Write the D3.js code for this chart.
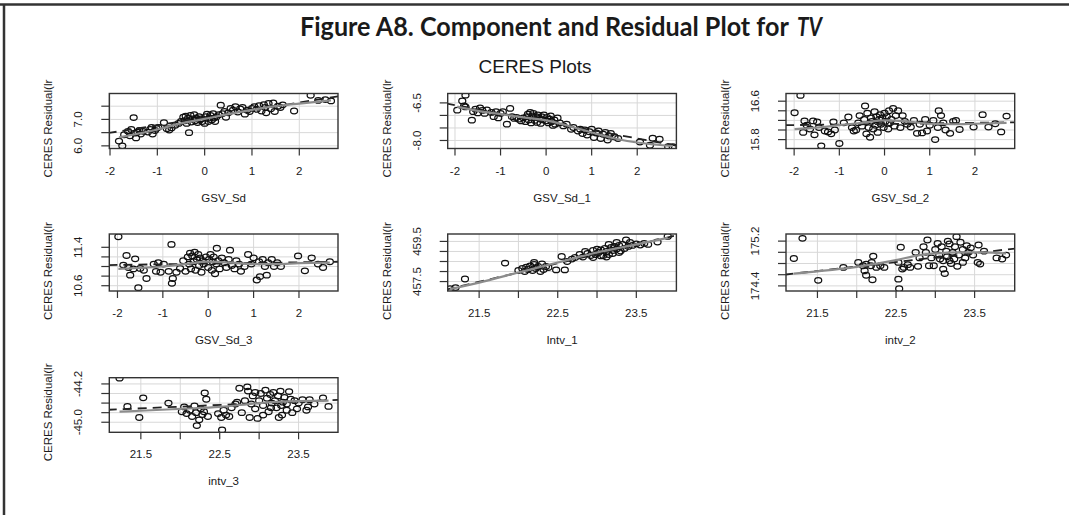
<!DOCTYPE html>
<html>
<head>
<meta charset="utf-8">
<script src="https://cdn.jsdelivr.net/npm/d3@7"></script>
<style>
  body { margin: 0; background: #fff; }
  svg { display: block; }
  text { font-family: "Liberation Sans", Arial, sans-serif; fill: #1a1a1a; }
</style>
</head>
<body>
<div id="chart"></div>
<script>
const width = 1069;
const height = 515;

// ---- data ----
const panelNames = ["GSV_Sd", "GSV_Sd_1", "GSV_Sd_2", "GSV_Sd_3", "Intv_1", "intv_2", "intv_3"];

const gsvTicks = [-2, -1, 0, 1, 2];
const gsvTickLabels = ["-2", "-1", "0", "1", "2"];
const intvTicks = [21.5, 22, 22.5, 23, 23.5];
const intvTickLabels = ["21.5", "", "22.5", "", "23.5"];

const yTicks = [
  [6.0, 6.5, 7.0, 7.5],
  [-8.0, -7.5, -7.0, -6.5],
  [15.8, 16.0, 16.2, 16.4, 16.6],
  [10.6, 10.8, 11.0, 11.2, 11.4],
  [457.5, 458.0, 458.5, 459.0, 459.5],
  [174.4, 174.6, 174.8, 175.0, 175.2],
  [-45.0, -44.8, -44.6, -44.4, -44.2]
];
const yTickLabels = [
  ["6.0", "", "7.0", ""],
  ["-8.0", "", "", "-6.5"],
  ["15.8", "", "", "", "16.6"],
  ["10.6", "", "", "", "11.4"],
  ["457.5", "", "", "", "459.5"],
  ["174.4", "", "", "", "175.2"],
  ["-45.0", "", "", "", "-44.2"]
];

const gsvSdPts = [[-1.81,6.18],[-1.74,6.0],[-1.70,6.42],[-1.62,6.55],[-1.58,6.38],[-1.55,6.62],[-1.50,7.07],[-1.48,6.48],[-1.45,6.30],[-1.42,6.52],[-1.38,6.58],[-1.35,6.45],[-1.30,6.55],[-1.20,6.52],[-1.15,6.62],[-1.12,6.70],[-1.10,6.45],[-1.05,6.58],[-1.02,6.66],[-0.98,6.70],[-0.86,6.88],[-0.80,6.65],[-0.75,6.60],[-0.70,6.68],[-0.62,6.78],[-0.55,6.85],[-0.50,6.92],[-0.45,7.08],[-0.42,6.95],[-0.40,7.12],[-0.38,6.85],[-0.35,7.05],[-0.33,6.50],[-0.30,7.15],[-0.28,6.90],[-0.25,7.02],[-0.22,7.18],[-0.20,6.95],[-0.18,7.05],[-0.15,6.88],[-0.12,7.10],[-0.10,6.98],[-0.08,7.02],[-0.05,6.92],[0.0,6.85],[0.02,7.10],[0.05,7.20],[0.08,6.92],[0.10,7.05],[0.12,7.15],[0.15,6.98],[0.18,7.22],[0.20,7.05],[0.22,6.92],[0.25,7.10],[0.30,7.18],[0.34,7.54],[0.38,7.22],[0.42,7.30],[0.45,7.08],[0.50,7.25],[0.55,7.42],[0.60,7.35],[0.65,7.48],[0.70,7.28],[0.75,7.40],[0.80,7.45],[0.85,7.20],[0.90,7.35],[0.95,7.30],[1.00,7.42],[1.05,7.48],[1.10,7.38],[1.15,7.52],[1.20,7.32],[1.25,7.56],[1.28,7.45],[1.30,7.25],[1.35,7.60],[1.40,7.40],[1.45,7.62],[1.48,7.30],[1.55,7.50],[1.60,7.45],[1.65,7.55],[1.89,7.32],[2.24,7.91],[2.40,7.72],[2.55,7.75],[2.67,7.70]];
const gsvSd1Pts = [[-1.95,-6.79],[-1.84,-6.42],[-1.80,-6.62],[-1.77,-6.19],[-1.77,-6.66],[-1.63,-7.19],[-1.60,-6.85],[-1.55,-6.75],[-1.50,-6.90],[-1.45,-6.70],[-1.40,-6.80],[-1.35,-6.92],[-1.30,-6.78],[-1.20,-6.88],[-1.15,-7.05],[-1.10,-6.85],[-1.05,-7.10],[-1.00,-6.92],[-0.95,-6.85],[-0.86,-7.35],[-0.79,-6.72],[-0.75,-7.05],[-0.70,-7.12],[-0.65,-7.08],[-0.60,-7.15],[-0.55,-7.22],[-0.50,-7.10],[-0.45,-7.25],[-0.42,-7.05],[-0.40,-6.95],[-0.38,-7.18],[-0.35,-6.88],[-0.33,-7.30],[-0.30,-7.02],[-0.28,-6.92],[-0.25,-7.20],[-0.22,-7.05],[-0.20,-7.28],[-0.18,-6.98],[-0.15,-7.12],[-0.12,-7.32],[-0.10,-7.05],[-0.08,-7.18],[-0.05,-6.98],[0.0,-7.22],[0.02,-7.08],[0.05,-7.30],[0.08,-7.15],[0.10,-7.02],[0.12,-7.25],[0.15,-7.40],[0.18,-7.18],[0.20,-7.35],[0.25,-7.10],[0.30,-7.30],[0.38,-7.42],[0.45,-7.35],[0.55,-7.55],[0.60,-7.48],[0.70,-7.62],[0.75,-7.55],[0.80,-7.72],[0.85,-7.58],[0.90,-7.78],[0.95,-7.65],[1.00,-7.55],[1.05,-7.88],[1.10,-7.70],[1.15,-7.62],[1.20,-7.92],[1.25,-7.75],[1.30,-7.68],[1.35,-7.98],[1.38,-7.82],[1.42,-7.72],[1.50,-7.85],[1.58,-7.92],[2.06,-8.06],[2.28,-8.19],[2.34,-7.91],[2.49,-7.95],[2.68,-8.25],[2.78,-8.25]];
const gsvSd2Pts = [[-1.99,16.36],[-1.86,16.72],[-1.80,15.95],[-1.77,16.19],[-1.72,16.10],[-1.65,16.02],[-1.58,16.19],[-1.55,15.90],[-1.49,16.17],[-1.45,16.05],[-1.40,15.67],[-1.32,15.98],[-1.25,15.96],[-1.18,15.92],[-1.13,16.17],[-1.10,16.00],[-1.00,15.72],[-0.90,16.15],[-0.80,16.27],[-0.72,16.05],[-0.68,15.98],[-0.63,16.00],[-0.58,16.15],[-0.55,16.30],[-0.50,16.08],[-0.45,16.22],[-0.43,16.50],[-0.40,15.92],[-0.38,16.35],[-0.35,16.05],[-0.32,15.85],[-0.30,16.25],[-0.28,16.18],[-0.25,16.02],[-0.22,16.38],[-0.20,16.10],[-0.18,16.28],[-0.15,15.95],[-0.12,16.22],[-0.10,16.32],[-0.08,16.12],[-0.05,16.25],[-0.02,16.05],[0.0,16.35],[0.02,16.18],[0.05,16.28],[0.08,16.02],[0.10,16.40],[0.12,16.15],[0.15,16.22],[0.19,16.45],[0.22,16.08],[0.25,16.30],[0.30,16.40],[0.35,16.05],[0.40,16.30],[0.45,16.18],[0.50,16.12],[0.58,16.06],[0.65,16.20],[0.72,15.93],[0.78,16.12],[0.83,15.94],[0.90,16.22],[0.94,15.98],[1.00,16.10],[1.08,16.20],[1.12,15.80],[1.18,16.05],[1.20,16.40],[1.25,16.30],[1.30,16.15],[1.35,16.00],[1.45,15.93],[1.52,16.18],[1.58,16.20],[1.66,16.01],[1.97,16.06],[2.17,16.32],[2.30,16.06],[2.45,16.13],[2.58,15.96],[2.70,16.29]];
const gsvSd3Pts = [[-1.98,11.62],[-1.87,11.03],[-1.80,11.23],[-1.76,10.98],[-1.72,10.82],[-1.65,10.95],[-1.61,11.16],[-1.54,10.56],[-1.50,10.96],[-1.42,10.92],[-1.36,10.75],[-1.20,11.05],[-1.15,10.90],[-1.10,11.08],[-1.05,10.88],[-0.98,11.05],[-0.87,10.90],[-0.81,11.46],[-0.80,10.65],[-0.78,10.75],[-0.70,10.88],[-0.62,10.96],[-0.55,11.12],[-0.50,10.90],[-0.45,11.20],[-0.42,11.05],[-0.40,11.28],[-0.38,10.95],[-0.35,11.22],[-0.32,11.10],[-0.30,11.30],[-0.28,10.92],[-0.25,11.15],[-0.22,11.25],[-0.20,11.02],[-0.18,11.18],[-0.15,10.88],[-0.12,11.12],[-0.10,11.05],[-0.05,11.20],[0.0,10.98],[0.02,11.15],[0.05,11.25],[0.08,10.92],[0.10,11.10],[0.12,11.20],[0.15,10.85],[0.18,11.05],[0.19,11.38],[0.22,11.12],[0.25,10.95],[0.30,11.18],[0.35,11.08],[0.40,10.98],[0.45,11.15],[0.48,11.34],[0.52,11.02],[0.58,10.95],[0.62,11.12],[0.68,11.05],[0.72,10.90],[0.80,11.00],[0.88,11.25],[0.95,11.05],[1.00,11.18],[1.07,10.72],[1.12,11.10],[1.14,10.79],[1.20,11.15],[1.25,11.00],[1.29,10.82],[1.32,11.08],[1.40,11.15],[1.45,11.00],[1.52,11.08],[1.60,11.00],[1.98,11.22],[2.13,10.91],[2.28,11.18],[2.42,11.05],[2.53,10.98],[2.68,11.10]];
const intv1Pts = [[21.13,457.14],[21.20,457.20],[21.32,457.63],[21.83,458.42],[22.00,458.05],[22.05,458.15],[22.08,458.00],[22.10,458.22],[22.12,458.10],[22.15,458.28],[22.18,458.05],[22.20,458.35],[22.20,458.45],[22.22,458.15],[22.25,458.25],[22.28,458.00],[22.30,458.38],[22.32,458.10],[22.35,458.25],[22.38,458.20],[22.48,458.08],[22.55,458.75],[22.59,458.08],[22.62,458.50],[22.68,458.62],[22.72,458.70],[22.78,458.85],[22.82,458.72],[22.85,459.00],[22.88,458.90],[22.92,458.80],[22.95,459.05],[22.95,458.70],[22.98,458.85],[23.00,459.12],[23.02,458.95],[23.05,459.08],[23.05,458.78],[23.08,458.80],[23.10,459.15],[23.12,459.00],[23.12,458.72],[23.15,458.85],[23.15,459.35],[23.18,459.20],[23.20,459.05],[23.20,458.90],[23.22,459.25],[23.25,459.12],[23.25,459.45],[23.28,459.30],[23.28,458.95],[23.30,459.02],[23.32,459.35],[23.35,459.15],[23.37,459.58],[23.40,459.25],[23.42,459.45],[23.45,459.30],[23.50,459.38],[23.55,459.32],[23.60,459.40],[23.65,459.35],[23.77,459.47],[23.90,459.75]];
const intv2Pts = [[21.20,174.89],[21.31,175.25],[21.51,174.50],[21.83,174.73],[22.02,174.82],[22.08,174.76],[22.10,174.67],[22.12,174.79],[22.12,174.59],[22.18,174.76],[22.19,174.82],[22.20,174.51],[22.21,174.93],[22.25,174.73],[22.30,174.76],[22.35,174.73],[22.53,174.52],[22.53,174.82],[22.54,174.35],[22.56,175.09],[22.58,174.70],[22.60,174.73],[22.65,174.78],[22.68,174.73],[22.75,175.00],[22.78,174.75],[22.80,174.90],[22.85,175.10],[22.88,175.00],[22.90,175.22],[22.92,174.76],[22.95,174.90],[22.98,174.76],[23.00,175.05],[23.03,175.16],[23.05,174.95],[23.06,174.88],[23.08,175.10],[23.10,174.70],[23.10,174.85],[23.12,174.62],[23.14,175.02],[23.15,174.92],[23.16,175.20],[23.18,175.15],[23.18,174.85],[23.20,174.80],[23.22,175.00],[23.24,174.88],[23.25,175.10],[23.27,175.28],[23.28,174.75],[23.30,174.95],[23.32,175.18],[23.35,175.05],[23.35,174.82],[23.38,174.90],[23.40,175.12],[23.42,175.00],[23.45,175.08],[23.48,174.95],[23.54,174.82],[23.55,175.13],[23.57,174.79],[23.62,175.02],[23.78,174.90],[23.85,174.88],[23.90,174.95]];
const intv3Pts = [[21.23,-44.08],[21.33,-44.67],[21.48,-44.90],[21.53,-44.49],[21.85,-44.60],[22.02,-44.78],[22.05,-44.68],[22.08,-44.82],[22.12,-44.75],[22.15,-44.88],[22.18,-44.66],[22.20,-44.80],[22.21,-45.07],[22.24,-44.95],[22.26,-44.72],[22.28,-44.84],[22.30,-44.78],[22.31,-44.39],[22.33,-44.52],[22.35,-44.88],[22.48,-44.82],[22.52,-44.90],[22.53,-45.16],[22.55,-44.75],[22.58,-44.85],[22.62,-44.88],[22.65,-44.70],[22.70,-44.62],[22.72,-44.58],[22.75,-44.29],[22.78,-44.80],[22.82,-44.55],[22.85,-44.26],[22.86,-44.35],[22.88,-44.90],[22.90,-44.62],[22.92,-44.45],[22.95,-44.72],[22.95,-44.38],[22.98,-44.92],[23.00,-44.55],[23.02,-44.40],[23.05,-44.65],[23.05,-44.85],[23.08,-44.33],[23.10,-44.50],[23.12,-44.78],[23.14,-44.42],[23.15,-44.70],[23.16,-44.60],[23.18,-44.38],[23.20,-44.55],[23.22,-44.70],[23.24,-44.45],[23.25,-44.90],[23.27,-44.35],[23.28,-44.65],[23.29,-44.85],[23.30,-44.58],[23.32,-44.48],[23.35,-44.62],[23.35,-44.75],[23.38,-44.36],[23.40,-44.52],[23.42,-44.80],[23.45,-44.55],[23.48,-44.72],[23.50,-44.60],[23.55,-44.53],[23.60,-44.75],[23.62,-44.68],[23.64,-44.53],[23.70,-44.62],[23.81,-44.49],[23.88,-44.67]];

// dashed component line (two ends) and grey smoother, per panel
const fitLines = [
  [[-2.05,6.48],[2.85,7.88]],
  [[-2.2,-6.52],[2.9,-8.22]],
  [[-2.2,16.10],[2.9,16.16]],
  [[-2.2,11.03],[2.9,11.10]],
  [[21.08,457.10],[24.03,459.82]],
  [[21.08,174.60],[24.03,175.07]],
  [[21.08,-44.74],[24.03,-44.53]]
];
const smoothLines = [
  [[-1.81,6.32],[-1.0,6.62],[-0.5,6.85],[0,7.02],[0.5,7.2],[1.0,7.36],[1.5,7.5],[2.0,7.6],[2.67,7.72]],
  [[-1.95,-6.65],[-1.5,-6.82],[-1.0,-6.95],[-0.5,-7.08],[0,-7.2],[0.5,-7.42],[1.0,-7.68],[1.5,-7.92],[2.0,-8.08],[2.5,-8.18],[2.78,-8.22]],
  [[-1.99,16.02],[-1.5,16.05],[-1.0,16.1],[-0.5,16.15],[0,16.2],[0.5,16.18],[1.0,16.13],[1.5,16.12],[2.0,16.13],[2.7,16.15]],
  [[-1.98,10.95],[-1.5,10.97],[-1.0,11.0],[-0.5,11.05],[0,11.1],[0.5,11.08],[1.0,11.05],[1.5,11.05],[2.0,11.07],[2.68,11.08]],
  [[21.13,457.12],[21.5,457.45],[22.0,457.95],[22.5,458.45],[23.0,458.95],[23.5,459.35],[23.9,459.68]],
  [[21.20,174.62],[21.5,174.66],[22.0,174.74],[22.5,174.86],[22.8,174.95],[23.0,174.98],[23.3,175.0],[23.6,175.0],[23.9,174.98]],
  [[21.23,-44.78],[21.5,-44.76],[22.0,-44.72],[22.5,-44.68],[23.0,-44.6],[23.5,-44.56],[23.88,-44.55]]
];

const allPoints = [gsvSdPts, gsvSd1Pts, gsvSd2Pts, gsvSd3Pts, intv1Pts, intv2Pts, intv3Pts];

// axis extents of each panel (what the box edges stand for)
const xDomains = [[-2.015,2.818],[-2.16,2.86],[-2.18,2.88],[-2.18,2.86],[21.10,24.01],[21.10,24.01],[21.10,24.0]];
const yDomains = [[5.90,7.98],[-8.32,-6.125],[15.615,16.76],[10.49,11.677],[457.03,459.87],[174.309,175.327],[-45.21,-44.07]];

// ---- layout ----
const colX = [109.3, 447.7, 786];
const rowY = [[93.5,148.5],[234,291],[377.7,432.3]];
const boxW = 228.7;
const fontSize = "11.5px";

const svg = d3.select("#chart").append("svg")
  .attr("width", width)
  .attr("height", height);

// outer frame (top + left edge)
svg.append("line").attr("x1", 0).attr("x2", width).attr("y1", 4.5).attr("y2", 4.5)
  .attr("stroke", "#333").attr("stroke-width", 2.5);
svg.append("line").attr("x1", 4).attr("x2", 4).attr("y1", 4).attr("y2", height)
  .attr("stroke", "#333").attr("stroke-width", 2.5);

// figure caption: upright part, then italic "TV"; squeeze each to its measured width
function caption(str, left, targetW, italic) {
  const t = svg.append("text")
    .style("font-family", "Lato, 'Open Sans', sans-serif")
    .style("font-weight", "bold").style("font-size", "26px")
    .style("font-style", italic ? "italic" : "normal")
    .style("fill", "#1a1a1a")
    .text(str);
  const natural = t.node().getComputedTextLength();
  t.attr("transform", `translate(${left},36) scale(${targetW / natural},1)`);
}
caption("Figure A8. Component and Residual Plot for", 300, 489, false);
caption("TV", 797, 25, true);

svg.append("text")
  .attr("x", 535).attr("y", 73)
  .attr("text-anchor", "middle")
  .style("font-size", "19px")
  .text("CERES Plots");

panelNames.forEach((name, i) => {
  const col = i % 3, row = Math.floor(i / 3);
  const x0 = colX[col], x1 = x0 + boxW;
  const [y0, y1] = rowY[row];
  const isGsv = i < 4;

  const x = d3.scaleLinear().domain(xDomains[i]).range([x0, x1]);
  const y = d3.scaleLinear().domain(yDomains[i]).range([y1, y0]);
  const xt = isGsv ? gsvTicks : intvTicks;
  const xl = isGsv ? gsvTickLabels : intvTickLabels;

  const g = svg.append("g").attr("class", "panel");

  // grid
  g.selectAll("line.vgrid").data(xt).join("line").attr("class", "vgrid")
    .attr("x1", d => x(d)).attr("x2", d => x(d)).attr("y1", y0).attr("y2", y1)
    .attr("stroke", "#d8d8d8").attr("stroke-width", 1);
  g.selectAll("line.hgrid").data(yTicks[i]).join("line").attr("class", "hgrid")
    .attr("x1", x0).attr("x2", x1).attr("y1", d => y(d)).attr("y2", d => y(d))
    .attr("stroke", "#d8d8d8").attr("stroke-width", 1);

  const clipId = "clip" + i;
  svg.append("clipPath").attr("id", clipId).append("rect")
    .attr("x", x0).attr("y", y0).attr("width", boxW).attr("height", y1 - y0);

  const inner = g.append("g").attr("clip-path", `url(#${clipId})`);

  // points
  inner.selectAll("ellipse").data(allPoints[i]).join("ellipse")
    .attr("cx", d => x(d[0])).attr("cy", d => y(d[1]))
    .attr("rx", 3.5).attr("ry", 2.8)
    .attr("fill", "none").attr("stroke", "#111").attr("stroke-width", 1.25);

  const line = d3.line().x(d => x(d[0])).y(d => y(d[1]));
  inner.append("path").datum(fitLines[i]).attr("d", line)
    .attr("fill", "none").attr("stroke", "#222").attr("stroke-width", 1.8)
    .attr("stroke-dasharray", "9,6");
  inner.append("path").datum(smoothLines[i]).attr("d", d3.line().curve(d3.curveMonotoneX).x(d => x(d[0])).y(d => y(d[1])))
    .attr("fill", "none").attr("stroke", "#8c8c8c").attr("stroke-width", 2.2);

  // box
  g.append("rect").attr("x", x0).attr("y", y0).attr("width", boxW).attr("height", y1 - y0)
    .attr("fill", "none").attr("stroke", "#333").attr("stroke-width", 1.4);

  // x axis ticks + labels
  g.selectAll("line.xtick").data(xt).join("line").attr("class", "xtick")
    .attr("x1", d => x(d)).attr("x2", d => x(d)).attr("y1", y1).attr("y2", y1 + 7)
    .attr("stroke", "#333").attr("stroke-width", 1.2);
  g.selectAll("text.xlab").data(xt).join("text").attr("class", "xlab")
    .attr("x", d => x(d)).attr("y", y1 + 26)
    .attr("text-anchor", "middle").style("font-size", fontSize)
    .text((d, k) => xl[k]);

  // y axis ticks + vertical labels
  g.selectAll("line.ytick").data(yTicks[i]).join("line").attr("class", "ytick")
    .attr("x1", x0 - 8).attr("x2", x0).attr("y1", d => y(d)).attr("y2", d => y(d))
    .attr("stroke", "#333").attr("stroke-width", 1.2);
  g.selectAll("text.ylab").data(yTicks[i]).join("text").attr("class", "ylab")
    .attr("transform", d => `translate(${x0 - 27},${y(d)}) rotate(-90)`)
    .attr("text-anchor", "middle").style("font-size", fontSize)
    .text((d, k) => yTickLabels[i][k]);

  // axis titles
  g.append("text")
    .attr("x", (x0 + x1) / 2).attr("y", y1 + 53)
    .attr("text-anchor", "middle").style("font-size", fontSize)
    .text(name);
  g.append("text")
    .attr("transform", `translate(${x0 - 57},${y1 + 29}) rotate(-90)`)
    .attr("text-anchor", "start").style("font-size", fontSize)
    .text("CERES Residual(lr");
});
</script>
</body>
</html>
